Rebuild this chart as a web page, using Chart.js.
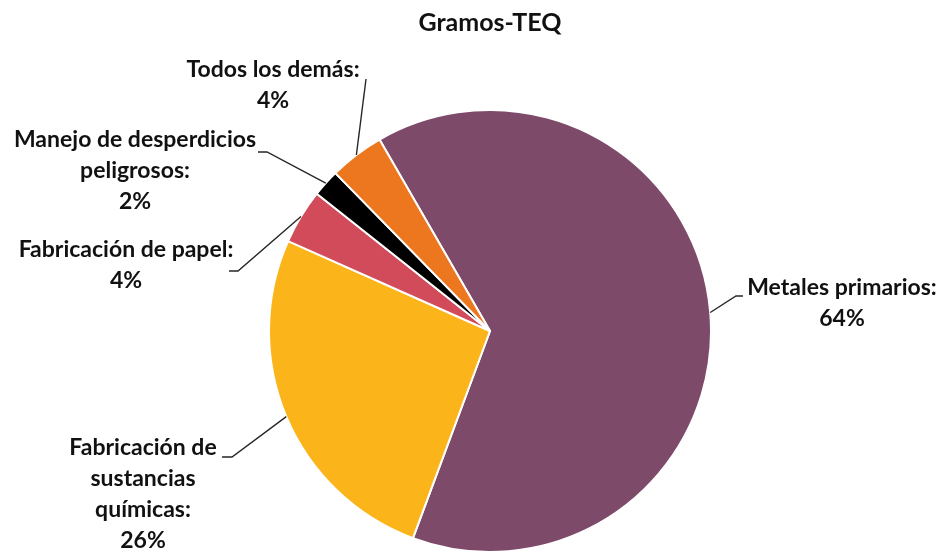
<!DOCTYPE html>
<html>
<head>
<meta charset="utf-8">
<style>
  html, body { margin: 0; padding: 0; background: #fff; }
  #myChart { display: block; }
</style>
<script src="https://cdn.jsdelivr.net/npm/chart.js@4"></script>
</head>
<body>
<canvas id="myChart" width="942" height="554"></canvas>
<script>
const categories = [
  'Metales primarios',
  'Fabricación de sustancias químicas',
  'Fabricación de papel',
  'Manejo de desperdicios peligrosos',
  'Todos los demás'
];
const shares = [64, 26, 4, 2, 4];
const sliceColors = ['#7e4a69', '#fbb51b', '#d14b5a', '#000000', '#ec771f'];

// how each label is broken into lines (last line is the percentage)
const labelLines = [
  ['Metales primarios:'],
  ['Fabricación de', 'sustancias', 'químicas:'],
  ['Fabricación de papel:'],
  ['Manejo de desperdicios', 'peligrosos:'],
  ['Todos los demás:']
];

// text centre x, first line y, and the elbow of the leader line
const labelPos = [
  { x: 842, y: 288, elbow: [[743, 296], [736, 296]] },
  { x: 143, y: 448, elbow: [[222, 457], [232, 457]] },
  { x: 126, y: 250, elbow: [[229, 271], [238, 271]] },
  { x: 135, y: 140, elbow: [[258, 152], [267, 152]] },
  { x: 273, y: 70,  elbow: [[366, 79]] }
];

const FONT = 'Lato, "Open Sans", sans-serif';
const LINE_H = 31;

const leaderLabels = {
  id: 'leaderLabels',
  afterDatasetsDraw(chart) {
    const ctx = chart.ctx;
    const meta = chart.getDatasetMeta(0);
    const total = shares.reduce((a, b) => a + b, 0);
    ctx.save();
    meta.data.forEach((arc, i) => {
      const p = arc.getProps(['x', 'y', 'startAngle', 'endAngle', 'outerRadius'], true);
      const mid = (p.startAngle + p.endAngle) / 2;
      const ex = p.x + Math.cos(mid) * p.outerRadius;
      const ey = p.y + Math.sin(mid) * p.outerRadius;
      const pos = labelPos[i];

      ctx.strokeStyle = '#262626';
      ctx.lineWidth = 1.4;
      ctx.beginPath();
      pos.elbow.forEach((pt, k) => k === 0 ? ctx.moveTo(pt[0], pt[1]) : ctx.lineTo(pt[0], pt[1]));
      ctx.lineTo(ex, ey);
      ctx.stroke();

      const lines = labelLines[i].concat([Math.round(shares[i] / total * 100) + '%']);
      ctx.fillStyle = '#111';
      ctx.font = 'bold 23px ' + FONT;
      ctx.textAlign = 'center';
      ctx.textBaseline = 'middle';
      lines.forEach((t, k) => ctx.fillText(t, pos.x, pos.y + k * LINE_H));
    });
    ctx.restore();
  }
};

const ctx = document.getElementById('myChart').getContext('2d');
const myChart = new Chart(ctx, {
  type: 'pie',
  data: {
    labels: categories,
    datasets: [{
      data: shares,
      backgroundColor: sliceColors,
      borderColor: '#ffffff',
      borderWidth: 2
    }]
  },
  options: {
    responsive: false,
    animation: false,
    rotation: -30,
    layout: { padding: { left: 267, right: 229, top: 0, bottom: 1 } },
    plugins: {
      legend: { display: false },
      tooltip: { enabled: false },
      title: {
        display: true,
        text: 'Gramos-TEQ',
        color: '#111',
        font: { family: FONT, size: 25, weight: 'bold' },
        padding: { top: 8, bottom: 71 }
      }
    }
  },
  plugins: [leaderLabels]
});
</script>
</body>
</html>
